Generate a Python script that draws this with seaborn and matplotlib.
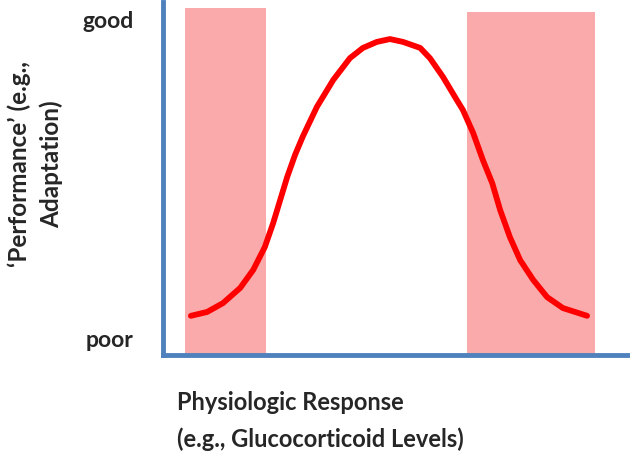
import matplotlib
matplotlib.use('Agg')
import matplotlib.pyplot as plt
import seaborn as sns
import pandas as pd

# curve (x: response 0-100, y: performance 0-100)
resp = [6.0, 9.5, 12.9, 16.6, 19.4, 21.9, 23.7, 25.2, 26.7, 28.4, 30.1, 33.1,
        36.6, 40.2, 43.0, 46.0, 48.8, 51.6, 55.3, 57.4, 60.2, 63.2, 64.5,
        66.7, 68.8, 70.8, 72.5, 74.6, 76.8, 79.6, 82.6, 86.0, 91.2]
perf = [11.1, 12.2, 14.7, 19.0, 24.1, 30.6, 37.4, 43.9, 50.4, 56.7, 62.0, 70.3,
        77.9, 84.1, 87.0, 88.7, 89.5, 88.7, 87.0, 84.1, 78.8, 72.2, 69.4,
        62.9, 55.2, 48.7, 41.1, 33.4, 26.9, 21.3, 16.4, 13.3, 11.1]

# shaded zones: start, width, height
zone_start = [4.7, 65.4]
zone_width = [17.4, 27.5]
zone_height = [98.3, 97.2]

tick_pos = [95.0, 4.6]
tick_labels = ['good', 'poor']

sns.set_style('white')
plt.rcParams['font.family'] = ['Lato', 'DejaVu Sans']

df = pd.DataFrame({'resp': resp, 'perf': perf})

fig = plt.figure(figsize=(6.3, 4.57), dpi=100)
ax = fig.add_axes([163 / 630, 102 / 457, 465 / 630, 353 / 457])

ax.bar(zone_start, zone_height, width=zone_width, align='edge',
       color='#FAAAAA', edgecolor='none', zorder=1)
sns.lineplot(data=df, x='resp', y='perf', ax=ax, color='#FF0000',
             linewidth=4.2, sort=False, zorder=3)

ax.set_xlim(0, 100)
ax.set_ylim(0, 100)
ax.set_xticks([])
ax.set_yticks(tick_pos)
ax.set_yticklabels(tick_labels, fontsize=16.5, fontweight='bold')
ax.tick_params(axis='y', length=0, pad=21)
ax.set_xlabel('')
ax.set_ylabel('')

for side in ['top', 'right']:
    ax.spines[side].set_visible(False)
for side in ['left', 'bottom']:
    ax.spines[side].set_color('#4F81BD')
    ax.spines[side].set_linewidth(3.5)
    ax.spines[side].set_zorder(2)

fig.text(177 / 630, 1 - 391 / 457, 'Physiologic Response\n(e.g., Glucocorticoid Levels)',
         ha='left', va='top', fontsize=17, fontweight='bold', linespacing=1.7)
fig.text(35 / 630, 1 - 164 / 457, '\u2018Performance\u2019 (e.g.,\nAdaptation)',
         ha='center', va='center', rotation=90, fontsize=17.5, fontweight='bold',
         multialignment='center', linespacing=1.45)

fig.savefig('out.png', dpi=100)
